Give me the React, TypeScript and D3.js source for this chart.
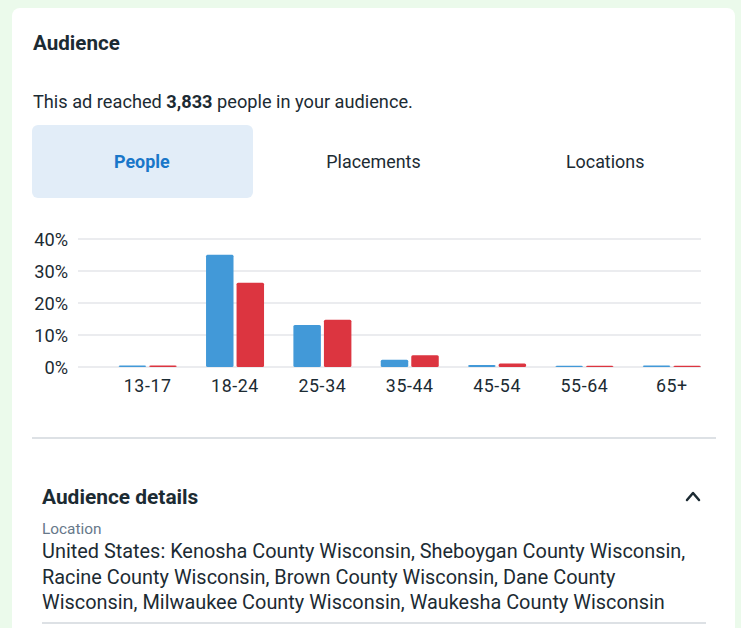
import React from "react";
import * as d3 from "d3";

const ageGroups = ["13-17", "18-24", "25-34", "35-44", "45-54", "55-64", "65+"];
const blueValues = [0.5, 35.1, 13.1, 2.3, 0.6, 0.4, 0.5];
const redValues = [0.5, 26.3, 14.8, 3.7, 1.1, 0.4, 0.4];
const yTicks = [0, 10, 20, 30, 40];
const tabs = ["People", "Placements", "Locations"];
const locationLines = [
  "United States: Kenosha County Wisconsin, Sheboygan County Wisconsin,",
  "Racine County Wisconsin, Brown County Wisconsin, Dane County",
  "Wisconsin, Milwaukee County Wisconsin, Waukesha County Wisconsin",
];

const FONT = "Roboto, 'Noto Sans', sans-serif";
const DARK = "#1c2b33";

export default function App() {
  const width = 741;
  const height = 628;

  const y = d3.scaleLinear().domain([0, 40]).range([367, 239]);
  const x = d3.scaleBand().domain(ageGroups).range([104, 715.5]);
  const inner = d3
    .scaleBand()
    .domain(["blue", "red"])
    .range([0, 58])
    .paddingInner(0.1);
  const groupLeft = (c: string) => (x(c) as number) + x.bandwidth() / 2 - 29;

  const tabX = d3.scaleBand().domain(tabs).range([26, 721]);

  const bars = (vals: number[], key: string, color: string) =>
    vals.map((v, i) => {
      const c = ageGroups[i];
      const top = y(v);
      return (
        <rect
          key={key + c}
          x={groupLeft(c) + (inner(key) as number)}
          y={top}
          width={inner.bandwidth()}
          height={y(0) - top}
          rx={1.5}
          fill={color}
        />
      );
    });

  return (
    <div style={{ position: "absolute", left: 0, top: 0 }}>
      <svg width={width} height={height} style={{ display: "block" }} fontFamily={FONT}>
        <rect x={0} y={0} width={width} height={height} fill="#ebfaeb" />
        <rect x={12} y={8} width={723} height={660} rx={8} fill="#ffffff" />

        <text x={33} y={50} fontSize={20.6} fontWeight={700} fill={DARK}>
          Audience
        </text>
        <text x={33} y={108} fontSize={18.2} fill={DARK}>
          This ad reached <tspan fontWeight={700}>3,833</tspan> people in your audience.
        </text>

        <rect x={32} y={125} width={221} height={73} rx={6} fill="#e2edf8" />
        {tabs.map((t, i) => (
          <text
            key={t}
            x={(tabX(t) as number) + tabX.bandwidth() / 2}
            y={168}
            textAnchor="middle"
            fontSize={17.9}
            fontWeight={i === 0 ? 700 : 400}
            fill={i === 0 ? "#1a77c9" : DARK}
          >
            {t}
          </text>
        ))}

        {yTicks.map((t) => (
          <g key={t}>
            <line x1={78} x2={701} y1={y(t)} y2={y(t)} stroke="#e4e6ea" strokeWidth={1.5} />
            <text x={68} y={y(t) + 6.5} textAnchor="end" fontSize={18.2} fill={DARK}>
              {t}%
            </text>
          </g>
        ))}

        {bars(blueValues, "blue", "#4299d8")}
        {bars(redValues, "red", "#dc3540")}

        {ageGroups.map((c) => (
          <text
            key={c}
            x={(x(c) as number) + x.bandwidth() / 2}
            y={392}
            textAnchor="middle"
            fontSize={17.8}
            fill={DARK}
            letterSpacing={0.6}
          >
            {c}
          </text>
        ))}

        <line x1={32} x2={716} y1={438} y2={438} stroke="#dde1e5" strokeWidth={2} />

        <text x={42} y={504} fontSize={20.9} fontWeight={700} fill={DARK}>
          Audience details
        </text>
        <polyline
          points="687,500 693,493 699,500"
          fill="none"
          stroke={DARK}
          strokeWidth={2.5}
          strokeLinecap="round"
          strokeLinejoin="round"
        />
        <text x={42} y={534} fontSize={15.4} fill="#67788a">
          Location
        </text>
        {locationLines.map((l, i) => (
          <text key={i} x={42} y={558 + i * 25.5} fontSize={19.9} fill={DARK}>
            {l}
          </text>
        ))}
        <line x1={42} x2={706} y1={623} y2={623} stroke="#dde1e5" strokeWidth={2} />
      </svg>
    </div>
  );
}
